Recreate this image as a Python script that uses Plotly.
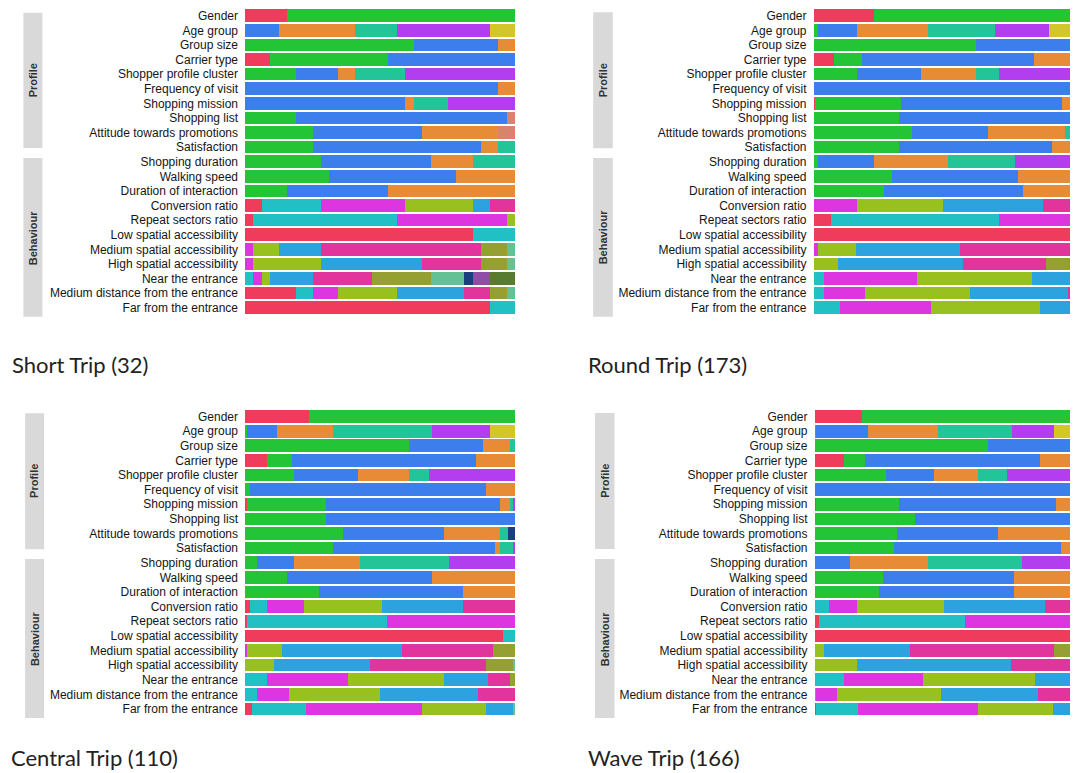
import plotly.graph_objects as go

# ---------------- data ----------------
row_labels = [
    "Gender", "Age group", "Group size", "Carrier type", "Shopper profile cluster",
    "Frequency of visit", "Shopping mission", "Shopping list",
    "Attitude towards promotions", "Satisfaction",
    "Shopping duration", "Walking speed", "Duration of interaction",
    "Conversion ratio", "Repeat sectors ratio", "Low spatial accessibility",
    "Medium spatial accessibility", "High spatial accessibility",
    "Near the entrance", "Medium distance from the entrance", "Far from the entrance",
]
group_names = ["Profile", "Behaviour"]
group_sizes = [10, 11]

panel_titles = ["Short Trip (32)", "Round Trip (173)", "Central Trip (110)", "Wave Trip (166)"]
panel_n = [32, 173, 110, 166]

# counts per category, first 13 rows (categories A1..A9)
short_a = [
    [5, 27, 0, 0, 0, 0, 0, 0, 0],
    [0, 0, 4, 9, 5, 11, 3, 0, 0],
    [0, 20, 10, 2, 0, 0, 0, 0, 0],
    [3, 14, 15, 0, 0, 0, 0, 0, 0],
    [0, 6, 5, 2, 6, 13, 0, 0, 0],
    [0, 0, 30, 2, 0, 0, 0, 0, 0],
    [0, 0, 19, 1, 4, 8, 0, 0, 0],
    [0, 6, 25, 0, 0, 0, 0, 1, 0],
    [0, 8, 13, 9, 0, 0, 0, 2, 0],
    [0, 8, 20, 2, 2, 0, 0, 0, 0],
    [0, 9, 13, 5, 5, 0, 0, 0, 0],
    [0, 10, 15, 7, 0, 0, 0, 0, 0],
    [0, 5, 12, 15, 0, 0, 0, 0, 0],
]
round_a = [
    [39, 134, 0, 0, 0, 0, 0, 0, 0],
    [0, 3, 25, 45, 43, 35, 22, 0, 0],
    [0, 104, 61, 8, 0, 0, 0, 0, 0],
    [13, 18, 110, 32, 0, 0, 0, 0, 0],
    [0, 28, 41, 35, 15, 54, 0, 0, 0],
    [0, 0, 164, 9, 0, 0, 0, 0, 0],
    [1, 55, 103, 8, 2, 4, 0, 0, 0],
    [0, 55, 118, 0, 0, 0, 0, 0, 0],
    [0, 63, 49, 49, 8, 0, 0, 0, 4],
    [0, 55, 98, 14, 6, 0, 0, 0, 0],
    [0, 3, 36, 47, 43, 44, 0, 0, 0],
    [0, 50, 81, 42, 0, 0, 0, 0, 0],
    [0, 45, 89, 39, 0, 0, 0, 0, 0],
]
central_a = [
    [26, 84, 0, 0, 0, 0, 0, 0, 0],
    [0, 1, 12, 23, 40, 24, 10, 0, 0],
    [0, 67, 30, 11, 2, 0, 0, 0, 0],
    [9, 10, 75, 16, 0, 0, 0, 0, 0],
    [0, 20, 26, 21, 8, 35, 0, 0, 0],
    [0, 2, 96, 12, 0, 0, 0, 0, 0],
    [1, 32, 71, 4, 1, 1, 0, 0, 0],
    [0, 33, 77, 0, 0, 0, 0, 0, 0],
    [0, 40, 41, 23, 3, 0, 0, 0, 3],
    [0, 36, 66, 2, 5, 1, 0, 0, 0],
    [0, 5, 15, 27, 36, 27, 0, 0, 0],
    [0, 17, 59, 34, 0, 0, 0, 0, 0],
    [0, 30, 59, 21, 0, 0, 0, 0, 0],
]
wave_a = [
    [29, 137, 0, 0, 0, 0, 0, 0, 0],
    [0, 1, 32, 43, 46, 26, 18, 0, 0],
    [0, 107, 51, 8, 0, 0, 0, 0, 0],
    [18, 13, 108, 27, 0, 0, 0, 0, 0],
    [0, 44, 30, 27, 18, 47, 0, 0, 0],
    [0, 0, 158, 8, 0, 0, 0, 0, 0],
    [1, 51, 97, 9, 3, 5, 0, 0, 0],
    [0, 62, 104, 0, 0, 0, 0, 0, 0],
    [0, 51, 62, 45, 8, 0, 0, 0, 0],
    [0, 49, 103, 6, 8, 0, 0, 0, 0],
    [0, 0, 22, 48, 58, 38, 0, 0, 0],
    [0, 42, 81, 43, 0, 0, 0, 0, 0],
    [0, 40, 83, 43, 0, 0, 0, 0, 0],
]

# counts per category, last 8 rows (categories B1..B11)
short_b = [
    [2, 7, 10, 8, 2, 3, 0, 0, 0, 0, 0],
    [1, 17, 13, 1, 0, 0, 0, 0, 0, 0, 0],
    [27, 5, 0, 0, 0, 0, 0, 0, 0, 0, 0],
    [0, 0, 1, 3, 5, 19, 3, 1, 0, 0, 0],
    [0, 0, 1, 8, 12, 7, 3, 1, 0, 0, 0],
    [0, 1, 1, 1, 5, 7, 7, 4, 1, 2, 3],
    [6, 2, 3, 7, 8, 3, 2, 1, 0, 0, 0],
    [29, 3, 0, 0, 0, 0, 0, 0, 0, 0, 0],
]
round_b = [
    [0, 0, 28, 55, 64, 26, 0, 0, 0, 0, 0],
    [11, 108, 54, 0, 0, 0, 0, 0, 0, 0, 0],
    [173, 0, 0, 0, 0, 0, 0, 0, 0, 0, 0],
    [0, 0, 3, 24, 67, 72, 7, 0, 0, 0, 0],
    [0, 0, 0, 16, 80, 53, 24, 0, 0, 0, 0],
    [0, 7, 59, 74, 26, 7, 0, 0, 0, 0, 0],
    [0, 7, 26, 67, 63, 10, 0, 0, 0, 0, 0],
    [0, 17, 58, 70, 28, 0, 0, 0, 0, 0, 0],
]
central_b = [
    [2, 7, 15, 32, 33, 21, 0, 0, 0, 0, 0],
    [1, 57, 52, 0, 0, 0, 0, 0, 0, 0, 0],
    [105, 5, 0, 0, 0, 0, 0, 0, 0, 0, 0],
    [0, 0, 1, 14, 49, 37, 9, 0, 0, 0, 0],
    [0, 0, 0, 12, 39, 47, 11, 1, 0, 0, 0],
    [0, 9, 33, 39, 18, 9, 2, 0, 0, 0, 0],
    [0, 5, 13, 37, 40, 15, 0, 0, 0, 0, 0],
    [3, 22, 47, 26, 11, 0, 0, 1, 0, 0, 0],
]
wave_b = [
    [0, 9, 17, 54, 62, 24, 0, 0, 0, 0, 0],
    [3, 90, 73, 0, 0, 0, 0, 0, 0, 0, 0],
    [166, 0, 0, 0, 0, 0, 0, 0, 0, 0, 0],
    [0, 0, 0, 6, 53, 89, 18, 0, 0, 0, 0],
    [0, 0, 0, 26, 95, 45, 0, 0, 0, 0, 0],
    [0, 18, 49, 69, 30, 0, 0, 0, 0, 0, 0],
    [0, 1, 13, 64, 60, 28, 0, 0, 0, 0, 0],
    [1, 26, 74, 46, 19, 0, 0, 0, 0, 0, 0],
]

panels_a = [short_a, round_a, central_a, wave_a]
panels_b = [short_b, round_b, central_b, wave_b]

# ---------------- style ----------------
PAGE_W, PAGE_H = 1078, 773
OFF = 8  # browser body margin
W, H = PAGE_W - OFF, PAGE_H - OFF
colors_a = ["#EF3B5C", "#23C436", "#3C7EEB", "#E88B36", "#23C497",
            "#B23EF0", "#D2C62A", "#D9826F", "#1C3E7F"]
colors_b = ["#EF3B5C", "#20C0C4", "#DD35E0", "#98C11F", "#2CA3DE",
            "#E2349D", "#96A032", "#64C196", "#1C3E7F", "#8E4EA6", "#577B2F"]

# page-pixel geometry per panel
geo = [
    dict(x0=245, x1=515, xmax=100, yt=8.4, yb=315.0, sx0=23.4, sx1=42.4,
         spans=[(12.7, 148.0), (158.0, 316.7)], tx=10, ty=364),
    dict(x0=813.5, x1=1078, xmax=97.9, yt=8.4, yb=315.0, sx0=593.2, sx1=612.8,
         spans=[(12.3, 148.3), (158.0, 316.7)], tx=586, ty=364),
    dict(x0=245, x1=515, xmax=100, yt=409.2, yb=716.3, sx0=25.1, sx1=44.1,
         spans=[(413.3, 549.3), (559.0, 718.0)], tx=9, ty=757),
    dict(x0=814.5, x1=1078, xmax=97.9, yt=409.2, yb=716.3, sx0=595.0, sx1=614.5,
         spans=[(413.0, 549.0), (559.0, 718.0)], tx=586, ty=757),
]

def px(x):
    return (x - OFF) / W

def py(y):
    return 1 - (y - OFF) / H

fig = go.Figure()
layout = dict(
    width=W, height=H, margin=dict(l=0, r=0, t=0, b=0),
    paper_bgcolor="white", plot_bgcolor="white",
    barmode="stack", bargap=0.13, showlegend=False,
)
shapes = []
annotations = []

na = 13
for i in range(4):
    sfx = "" if i == 0 else str(i + 1)
    xa, ya = "x" + sfx, "y" + sfx
    g = geo[i]
    n = panel_n[i]
    for k in range(len(colors_a)):
        fig.add_trace(go.Bar(
            x=[row[k] / n * 100 for row in panels_a[i]],
            y=row_labels[:na], orientation="h",
            marker=dict(color=colors_a[k], line=dict(width=0)),
            xaxis=xa, yaxis=ya, hoverinfo="skip",
        ))
    for k in range(len(colors_b)):
        fig.add_trace(go.Bar(
            x=[row[k] / n * 100 for row in panels_b[i]],
            y=row_labels[na:], orientation="h",
            marker=dict(color=colors_b[k], line=dict(width=0)),
            xaxis=xa, yaxis=ya, hoverinfo="skip",
        ))
    layout["xaxis" + sfx] = dict(
        domain=[px(g["x0"]), min(1.0, px(g["x1"]))], range=[0, g["xmax"]],
        visible=False, anchor=ya, fixedrange=True,
    )
    layout["yaxis" + sfx] = dict(
        domain=[py(g["yb"]), py(g["yt"])], anchor=xa,
        type="category", categoryorder="array", categoryarray=row_labels,
        range=[len(row_labels) - 0.5, -0.5],
        showgrid=False, zeroline=False, showline=False, ticks="",
        ticklabelstandoff=6,
        tickfont=dict(family="Liberation Sans, Arial, sans-serif", size=12, color="#151515"),
    )
    for (y0, y1), name in zip(g["spans"], group_names):
        shapes.append(dict(type="rect", xref="paper", yref="paper",
                           x0=px(g["sx0"]), x1=px(g["sx1"]), y0=py(y1), y1=py(y0),
                           fillcolor="#D9D9D9", line=dict(width=0), layer="below"))
        annotations.append(dict(
            x=px((g["sx0"] + g["sx1"]) / 2), y=py((y0 + y1) / 2),
            xref="paper", yref="paper", text="<b>" + name + "</b>", showarrow=False,
            textangle=-90, xanchor="center", yanchor="middle",
            font=dict(family="Liberation Sans, Arial, sans-serif", size=11, color="#333333"),
        ))
    annotations.append(dict(
        x=px(g["tx"]), y=py(g["ty"]), xref="paper", yref="paper",
        text=panel_titles[i], showarrow=False, xanchor="left", yanchor="middle",
        font=dict(family="Lato, Open Sans, sans-serif", size=22, color="#222222"),
    ))

layout["shapes"] = shapes
layout["annotations"] = annotations
fig.update_layout(**layout)
fig.write_html("out.html")
